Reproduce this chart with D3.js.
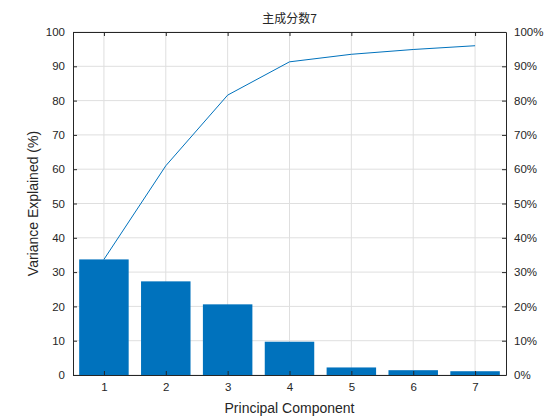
<!DOCTYPE html>
<html><head><meta charset="utf-8">
<script src="https://cdn.jsdelivr.net/npm/d3@7"></script>
<style>body{margin:0;background:#fff}text{font-family:"Liberation Sans",Arial,sans-serif;fill:#262626}</style>
</head><body><div id="chart"></div>
<script>
var components = [1,2,3,4,5,6,7]
var variance = [33.7,27.3,20.6,9.7,2.2,1.4,1.1]
var cumulative = [33.7,61.0,81.6,91.3,93.5,94.9,96.0]
var leftTicks = [0,10,20,30,40,50,60,70,80,90,100]
var rightTicks = ["0%","10%","20%","30%","40%","50%","60%","70%","80%","90%","100%"]

var width = 560, height = 420
var margin = {top: 32, right: 54, bottom: 45, left: 73}
var svg = d3.select("#chart").append("svg").attr("width", width).attr("height", height)

var x = d3.scaleLinear().domain([0.5,7.5]).range([margin.left, width-margin.right])
var y = d3.scaleLinear().domain([0,100]).range([height-margin.bottom, margin.top])
var yr = d3.scaleLinear().domain([0,100]).range([height-margin.bottom, margin.top])

var g = svg.append("g")
// grid
g.selectAll(".gx").data(components).enter().append("line")
.attr("x1",d=>x(d)).attr("x2",d=>x(d)).attr("y1",y(0)).attr("y2",y(100))
.attr("stroke","#dfdfdf")
g.selectAll(".gy").data(leftTicks).enter().append("line")
.attr("x1",x(0.5)).attr("x2",x(7.5)).attr("y1",d=>y(d)).attr("y2",d=>y(d))
.attr("stroke","#dfdfdf")

var bw = (x(2)-x(1))*0.8
g.selectAll("rect").data(variance).enter().append("rect")
.attr("x",(d,i)=>x(components[i])-bw/2).attr("width",bw)
.attr("y",d=>y(d)).attr("height",d=>y(0)-y(d)).attr("fill","#0072BD")

g.append("path").datum(cumulative)
.attr("d", d3.line().x((d,i)=>x(components[i])).y(d=>yr(d)))
.attr("fill","none").attr("stroke","#0072BD").attr("stroke-width",1)

function style(a){
  a.selectAll("path").attr("stroke","#262626")
  a.selectAll("line").attr("stroke","#262626")
  a.selectAll("text").attr("font-size",11.5).style("fill","#262626")
}
svg.append("g").attr("transform","translate(0,"+y(0)+")")
.call(d3.axisBottom(x).tickValues(components).tickFormat(d3.format("d")).tickSize(-4).tickSizeOuter(0).tickPadding(8)).call(style)
svg.append("g").attr("transform","translate(0,"+y(100)+")")
.call(d3.axisTop(x).tickValues(components).tickSize(-4).tickSizeOuter(0).tickFormat("")).call(style)
svg.append("g").attr("transform","translate("+x(0.5)+",0)")
.call(d3.axisLeft(y).tickValues(leftTicks).tickSize(-4).tickSizeOuter(0).tickPadding(8)).call(style)
svg.append("g").attr("transform","translate("+x(7.5)+",0)")
.call(d3.axisRight(yr).tickValues(leftTicks).tickSize(-4).tickSizeOuter(0).tickPadding(8)
.tickFormat((d,i)=>rightTicks[i])).call(style)

svg.append("text").attr("x",(x(0.5)+x(7.5))/2).attr("y",23).attr("text-anchor","middle")
.attr("font-size",12).style("font-family","'Noto Sans CJK SC',sans-serif").text("主成分数7")
svg.append("text").attr("x",(x(0.5)+x(7.5))/2).attr("y",413).attr("text-anchor","middle")
.attr("font-size",14).text("Principal Component")
svg.append("text").attr("transform","translate(38,"+(y(50))+") rotate(-90)").attr("text-anchor","middle")
.attr("font-size",14).text("Variance Explained (%)")
</script></body></html>
